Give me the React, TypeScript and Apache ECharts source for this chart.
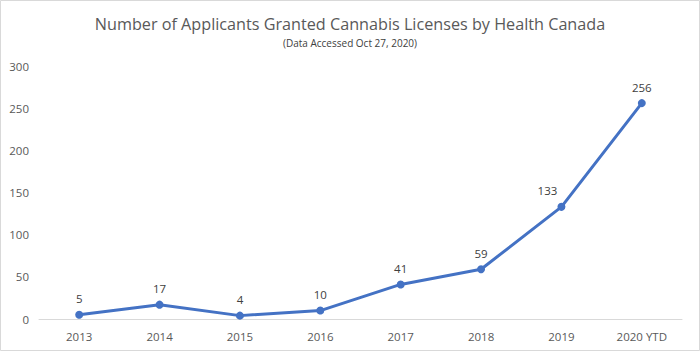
import React, { useEffect, useRef } from "react";
import * as echarts from "echarts";

const categories = ["2013", "2014", "2015", "2016", "2017", "2018", "2019", "2020 YTD"];
const applicants = [5, 17, 4, 10, 41, 59, 133, 256];
const yTicks = [0, 50, 100, 150, 200, 250, 300];

const titleText = "Number of Applicants Granted Cannabis Licenses by Health Canada";
const subtitleText = "(Data Accessed Oct 27, 2020)";

export default function App() {
  const ref = useRef<HTMLDivElement>(null);
  useEffect(() => {
    document.body.style.margin = "0";
    const chart = echarts.init(ref.current!, null, { renderer: "svg" });
    const font = "'Open Sans', 'Noto Sans', sans-serif";
    chart.setOption({
      animation: false,
      backgroundColor: "#ffffff",
      textStyle: { fontFamily: font },
      title: {
        text: titleText,
        subtext: subtitleText,
        left: "center",
        top: 11,
        itemGap: 6,
        textStyle: { fontFamily: font, fontSize: 16.2, fontWeight: "normal", color: "#595959" },
        subtextStyle: { fontFamily: font, fontSize: 10, color: "#404040" },
      },
      graphic: [
        {
          type: "rect",
          shape: { x: 0.5, y: 0.5, width: 699, height: 350 },
          style: { fill: "none", stroke: "#d9d9d9", lineWidth: 1 },
          silent: true,
        },
      ],
      grid: { left: 39, right: 18, top: 66, bottom: 33, containLabel: false },
      xAxis: {
        type: "category",
        data: categories,
        boundaryGap: true,
        axisLine: { show: true, lineStyle: { color: "#d9d9d9", width: 1 } },
        axisTick: { show: false },
        axisLabel: { color: "#595959", fontSize: 11.5, margin: 11, fontFamily: font },
        splitLine: { show: false },
      },
      yAxis: {
        type: "value",
        min: yTicks[0],
        max: yTicks[yTicks.length - 1],
        interval: 50,
        axisLine: { show: false },
        axisTick: { show: false },
        splitLine: { show: false },
        axisLabel: { color: "#595959", fontSize: 11.5, margin: 10, fontFamily: font },
      },
      series: [
        {
          type: "line",
          data: applicants.map((v, i) =>
            i === 6
              ? { value: v, label: { offset: [-14, 0] } }
              : { value: v }
          ),
          symbol: "circle",
          symbolSize: 8,
          lineStyle: { color: "#4472C4", width: 3 },
          itemStyle: { color: "#4472C4" },
          label: {
            show: true,
            position: "top",
            distance: 6,
            color: "#404040",
            fontSize: 11.5,
            fontFamily: font,
          },
        },
      ],
    });
    return () => chart.dispose();
  }, []);
  return <div ref={ref} style={{ width: 700, height: 352 }} />;
}
